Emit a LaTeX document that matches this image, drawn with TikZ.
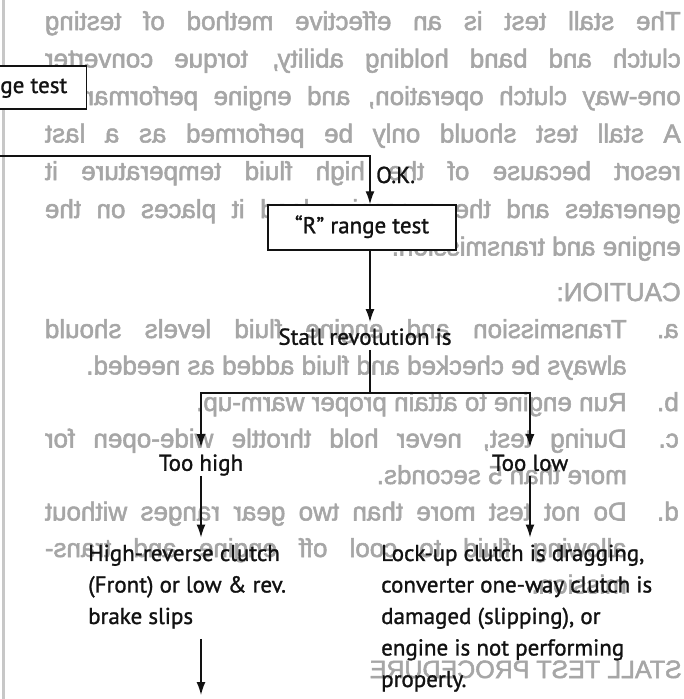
\documentclass[tikz,border=0pt]{standalone}
\usepackage{fontspec}
\setmainfont{PT Sans}
\newfontfamily\flowfont{PT Sans}[FakeBold=1.2]
\newfontfamily\bleedfont{Liberation Sans}[FakeBold=2]
\usetikzlibrary{arrows.meta}
\definecolor{bleed}{gray}{0.65}
\definecolor{ink}{gray}{0.07}
\newcommand\mirj[1]{\scalebox{-1}[1]{\makebox[636pt][s]{#1}}}
\newcommand\mirl[1]{\scalebox{-1}[1]{\makebox[582pt][s]{#1}}}
\newcommand\mirn[1]{\scalebox{-1}[1]{#1}}
\tikzset{
  flow/.style={font=\flowfont\fontsize{23}{31.5}\selectfont, inner sep=0pt, text=ink},
  fixh/.style={text height=16.5pt, text depth=5pt},
  boxnode/.style={flow, fixh, draw=ink, line width=1.5pt, fill=white},
  arr/.style={draw=ink, line width=1.4pt, -{Latex[length=13pt,width=9pt]}},
  ln/.style={draw=ink, line width=1.4pt},
  bl/.style={font=\bleedfont\fontsize{26}{30}\selectfont, text=bleed, inner sep=0pt, anchor=base east},
}
\begin{document}
\begin{tikzpicture}[x=1pt,y=-1pt]
\useasboundingbox (0,0) rectangle (683,699);
\fill[white] (0,0) rectangle (683,699);
% bleed-through text from the reverse side (mirrored)
\node[bl] (b1) at (681,30) {\mirj{The stall test is an effective method of testing}};
\node[bl] (b2) at (681,67.5) {\mirj{clutch and band holding ability, torque converter}};
\node[bl] (b3) at (681,105) {\mirj{one-way clutch operation, and engine performance.}};
\node[bl] (b4) at (681,142.5) {\mirj{A stall test should only be performed as a last}};
\node[bl] (b5) at (681,180) {\mirj{resort because of the high fluid temperature it}};
\node[bl] (b6) at (681,218) {\mirj{generates and the excessive load it places on the}};
\node[bl] (b7) at (681,255.5) {\mirn{engine and transmission.}};
\node[bl] (b8) at (681,301) {\mirn{CAUTION:}};
\node[bl] (b9a) at (679,338) {\mirn{a.}};
\node[bl] (b9) at (627,338) {\mirl{Transmission and engine fluid levels should}};
\node[bl] (b10) at (627,374.5) {\mirn{always be checked and fluid added as needed.}};
\node[bl] (b11a) at (679,411) {\mirn{b.}};
\node[bl] (b11) at (627,411) {\mirn{Run engine to attain proper warm-up.}};
\node[bl] (b12a) at (679,447.5) {\mirn{c.}};
\node[bl] (b12) at (627,447.5) {\mirl{During test, never hold throttle wide-open for}};
\node[bl] (b13) at (627,484) {\mirn{more than 5 seconds.}};
\node[bl] (b14a) at (679,520.5) {\mirn{d.}};
\node[bl] (b14) at (627,520.5) {\mirl{Do not test more than two gear ranges without}};
\node[bl] (b15) at (627,557) {\mirl{allowing fluid to cool off engine and trans-}};
\node[bl] (b16) at (627,593.5) {\mirn{mission.}};
\node[bl, font=\bleedfont\fontsize{25}{30}\selectfont] (b17) at (682,678) {\mirn{STALL TEST PROCEDURE}};
% page edge
\draw[line width=2.5pt, black!22] (3.5,0) -- (3.5,699);
% flowchart
\node[boxnode, anchor=north east, minimum height=43pt, inner xsep=19pt] (dbox) at (87,65) {ge test};
\node[boxnode, minimum width=188pt, minimum height=45pt] (rbox) at (362,227.5) {“R” range test};
\coordinate (offleft) at (-3,156);
\coordinate (turn) at (370,156);
\draw[arr] (offleft) -- (turn) -- (turn |- rbox.north);
\node[flow, anchor=base west] (ok) at (376,183) {O.K.};
\node[flow, fixh] (stall) at (365,339) {Stall revolution is};
\draw[arr, shorten >=6pt] (rbox.south -| turn) -- (stall.north -| turn);
\coordinate (split) at (370,393);
\draw[ln] (stall.south -| split) -- (split);
\node[flow, fixh] (high) at (201,465) {Too high};
\node[flow, fixh] (low) at (530,465) {Too low};
\draw[arr, shorten >=7pt] (split) -| (high.north);
\draw[arr, shorten >=7pt] (split) -| (low.north);
\node[flow, align=left, anchor=north west] (hr) at (88,544.5) {High-reverse clutch\\(Front) or low \& rev.\\brake slips};
\node[flow, align=left, anchor=north west] (lu) at (381,544.5) {Lock-up clutch is dragging,\\converter one-way clutch is\\damaged (slipping), or\\engine is not performing\\properly.};
\draw[arr, shorten >=7pt] (high.south) -- (high.south |- hr.north);
\draw[arr, shorten >=7pt] (low.south) -- (low.south |- lu.north);
\coordinate (nextbox) at (201,695);
\draw[arr, shorten <=10pt] (hr.south -| high) -- (nextbox);
\end{tikzpicture}
\end{document}
